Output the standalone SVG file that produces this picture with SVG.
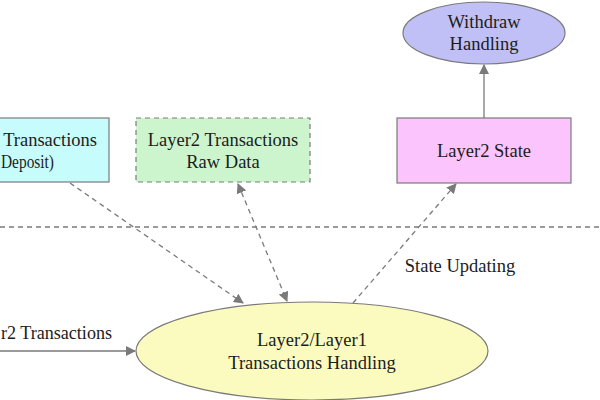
<svg xmlns="http://www.w3.org/2000/svg" width="600" height="400" viewBox="0 0 600 400" font-family="'Liberation Serif', 'Times New Roman', 'DejaVu Serif', serif">
<style>
text{font-family:'Liberation Serif','Times New Roman','DejaVu Serif',serif;font-size:18.5px;fill:#1c1c1c;text-anchor:middle}
.box{stroke:#7a7a7a;stroke-width:1.2}
.con{stroke:#7a7a7a;stroke-width:1.3;fill:none}
.dash{stroke-dasharray:5,4}
</style>
<defs>
<marker id="ah" viewBox="0 0 10 10" refX="9" refY="5" markerWidth="10" markerHeight="10" markerUnits="userSpaceOnUse" orient="auto-start-reverse">
<path d="M0,0 L10,5 L0,10 z" fill="#7a7a7a"/>
</marker>
</defs>
<rect width="600" height="400" fill="#fff"/>
<line x1="0" y1="227" x2="600" y2="227" class="con dash" stroke="#8a8a8a"/>
<g id="deposit">
<rect class="box" x="-70" y="118" width="179" height="64" fill="#c6fcfc"/>
<text x="97" y="146" style="text-anchor:end">Transactions</text>
<text x="1" y="168" style="text-anchor:start" textLength="53" lengthAdjust="spacingAndGlyphs">Deposit)</text>
</g>
<g id="rawdata">
<rect class="box dash" x="136" y="118" width="174" height="64" fill="#cdf5cd"/>
<text x="223" y="146">Layer2 Transactions</text>
<text x="223" y="168">Raw Data</text>
</g>
<g id="state">
<rect class="box" x="397" y="118" width="174" height="65" fill="#fcc4fc"/>
<text x="484" y="157">Layer2 State</text>
</g>
<g id="withdraw">
<ellipse class="box" cx="484" cy="33" rx="81" ry="31" fill="#c0c0f6"/>
<text x="484" y="28">Withdraw</text>
<text x="484" y="50">Handling</text>
</g>
<g id="handling">
<ellipse class="box" cx="312" cy="351" rx="176" ry="49" fill="#fbfbc0"/>
<text x="312" y="346">Layer2/Layer1</text>
<text x="312" y="369">Transactions Handling</text>
</g>
<g id="connectors">
<line class="con" x1="484" y1="118" x2="484" y2="65" marker-end="url(#ah)"/>
<line class="con dash" x1="70" y1="183" x2="243" y2="303" marker-end="url(#ah)"/>
<line class="con dash" x1="238" y1="184" x2="287" y2="301" marker-start="url(#ah)" marker-end="url(#ah)"/>
<line class="con dash" x1="353" y1="303" x2="456" y2="184" marker-end="url(#ah)"/>
<line class="con" x1="0" y1="351" x2="135" y2="351" marker-end="url(#ah)"/>
<text x="460" y="272">State Updating</text>
<text x="1" y="339" style="text-anchor:start" textLength="111" lengthAdjust="spacingAndGlyphs">r2 Transactions</text>
</g>
</svg>
